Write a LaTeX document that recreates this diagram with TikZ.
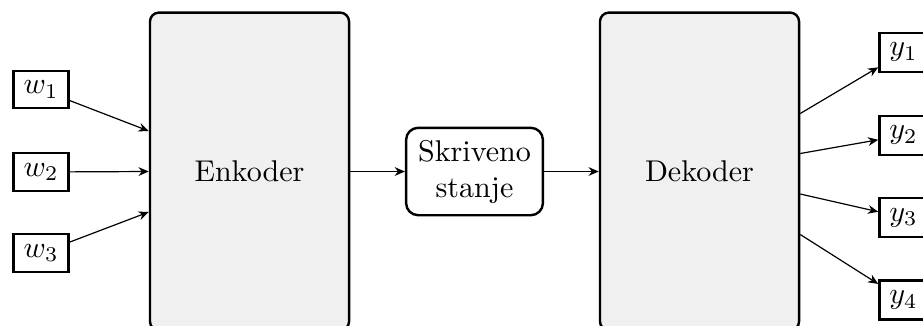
\documentclass[tikz,border=0pt]{standalone}
\usetikzlibrary{arrows.meta,calc}
\definecolor{boxfill}{HTML}{F0F0F0}
\begin{document}
\begin{tikzpicture}[x=0.01171cm,y=-0.01171cm,
  tok/.style={draw,thick,rectangle,inner sep=0.3333em},
  block/.style={draw,thick,rounded corners=3pt,fill=boxfill,minimum width=2.33cm,minimum height=3.72cm},
  state/.style={draw,thick,rounded corners=4pt,align=center,inner sep=4pt},
  link/.style={-{Stealth[length=3.4pt,width=2.9pt,inset=1.1pt]},thin}]
\useasboundingbox (0,0) rectangle (923,325);

% input tokens
\node[tok] (w1) at (41,89.5) {$w_1$};
\node[tok] (w2) at (41,172) {$w_2$};
\node[tok] (w3) at (41,253) {$w_3$};

% encoder, hidden state, decoder
\node[block] (enc) at (249.5,171.5) {Enkoder};
\node[state] (skr) at (474.5,171.5) {Skriveno\\stanje};
\node[block] (dec) at (699.5,171.5) {Dekoder};

% output tokens
\node[tok] (y1) at (903.5,52.3) {$y_1$};
\node[tok] (y2) at (903.5,135.3) {$y_2$};
\node[tok] (y3) at (903.5,217.5) {$y_3$};
\node[tok] (y4) at (903.5,300) {$y_4$};

% attachment points on the block sides
\coordinate (e1) at ($(enc.west)+(0,-40.5)$);
\coordinate (e3) at ($(enc.west)+(0,40.5)$);
\coordinate (d1) at ($(dec.east)+(0,-58)$);
\coordinate (d2) at ($(dec.east)+(0,-18)$);
\coordinate (d3) at ($(dec.east)+(0,22.5)$);
\coordinate (d4) at ($(dec.east)+(0,63)$);

\draw[link] (w1) -- (e1);
\draw[link] (w2) -- (enc.west);
\draw[link] (w3) -- (e3);

\draw[link] (enc.east) -- (skr.west);
\draw[link] (skr.east) -- (dec.west);

\draw[link] (d1) -- (y1);
\draw[link] (d2) -- (y2);
\draw[link] (d3) -- (y3);
\draw[link] (d4) -- (y4);
\end{tikzpicture}
\end{document}
